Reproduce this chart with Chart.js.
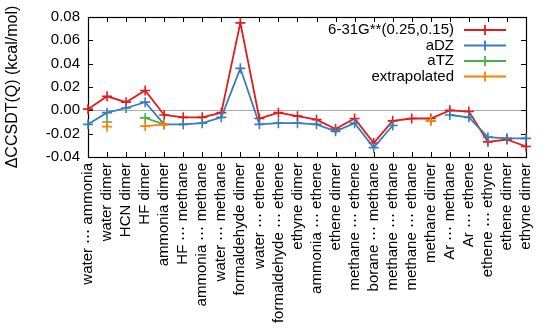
<!DOCTYPE html>
<html>
<head>
<meta charset="utf-8">
<script src="https://cdn.jsdelivr.net/npm/chart.js@4"></script>
<style>
  html, body { margin: 0; padding: 0; background: #fff; }
  #wrap { width: 550px; height: 333px; }
</style>
</head>
<body>
<div id="wrap"><canvas id="chart" width="550" height="333"></canvas></div>
<script>
const categories = [
  "water ⋯ ammonia", "water dimer", "HCN dimer", "HF dimer", "ammonia dimer",
  "HF ⋯ methane", "ammonia ⋯ methane", "water ⋯ methane", "formaldehyde dimer",
  "water ⋯ ethene", "formaldehyde ⋯ ethene", "ethyne dimer", "ammonia ⋯ ethene",
  "ethene dimer", "methane ⋯ ethene", "borane ⋯ methane", "methane ⋯ ethane",
  "methane ⋯ ethane", "methane dimer", "Ar ⋯ methane", "Ar ⋯ ethene",
  "ethene ⋯ ethyne", "ethene dimer", "ethyne dimer"
];

const seriesNames = ["6-31G**(0.25,0.15)", "aDZ", "aTZ", "extrapolated"];
const seriesColors = ["#e41a1c", "#377eb8", "#4daf4a", "#ff7f00"];

const pople = [0.001, 0.012, 0.007, 0.017, -0.004, -0.006, -0.006, -0.002, 0.075,
  -0.007, -0.002, -0.005, -0.008, -0.016, -0.007, -0.028, -0.009, -0.007, -0.007,
  0.000, -0.001, -0.027, -0.025, -0.031];
const adz = [-0.012, -0.002, 0.002, 0.007, -0.012, -0.012, -0.011, -0.006, 0.036,
  -0.012, -0.011, -0.011, -0.012, -0.018, -0.011, -0.032, -0.013, null, null,
  -0.004, -0.006, -0.023, -0.024, -0.024];
const atz = [null, -0.010, null, -0.0065, -0.012, null, null, null, null,
  null, null, null, null, null, null, null, null, null, -0.009,
  null, null, null, null, null];
const extrap = [null, -0.014, null, -0.0135, -0.012, null, null, null, null,
  null, null, null, null, null, null, null, null, null, -0.009,
  null, null, null, null, null];

const yTicks = [-0.04, -0.02, 0.00, 0.02, 0.04, 0.06, 0.08];

const FONT = "'Liberation Sans', Arial, Helvetica, sans-serif";

function makeSet(i, data) {
  return {
    label: seriesNames[i],
    data,
    borderColor: seriesColors[i],
    backgroundColor: seriesColors[i],
    borderWidth: 1.8,
    pointStyle: "cross",
    pointRadius: 5,
    pointBorderWidth: 1.6,
    spanGaps: false,
    tension: 0,
    order: 4 - i,
  };
}

// border + inward ticks like gnuplot
const frame = {
  id: "frame",
  beforeDatasetsDraw(chart) {
    const { ctx, chartArea: a, scales } = chart;
    ctx.save();
    ctx.strokeStyle = "#000";
    ctx.lineWidth = 1;
    ctx.beginPath();
    scales.x.ticks.forEach((t, i) => {
      const x = Math.round(scales.x.getPixelForTick(i)) + 0.5;
      ctx.moveTo(x, a.bottom); ctx.lineTo(x, a.bottom - 5);
      ctx.moveTo(x, a.top); ctx.lineTo(x, a.top + 5);
    });
    yTicks.forEach((v) => {
      const y = Math.round(scales.y.getPixelForValue(v)) + 0.5;
      ctx.moveTo(a.left, y); ctx.lineTo(a.left + 5, y);
      ctx.moveTo(a.right, y); ctx.lineTo(a.right - 5, y);
    });
    ctx.stroke();
    ctx.lineWidth = 1.2;
    ctx.strokeRect(Math.round(a.left) + 0.5, Math.round(a.top) + 0.5,
      Math.round(a.right - a.left), Math.round(a.bottom - a.top));
    ctx.restore();
  },
  afterDraw(chart) {
    const { ctx, chartArea: a } = chart;
    ctx.save();
    ctx.font = "15px " + FONT;
    ctx.textAlign = "right";
    ctx.textBaseline = "middle";
    chart.data.datasets.forEach((ds, i) => {
      const y = a.top + 13 + i * 15.5;
      ctx.fillStyle = "#000";
      ctx.fillText(ds.label, a.right - 72, y);
      ctx.strokeStyle = ds.borderColor;
      ctx.lineWidth = 1.8;
      ctx.beginPath();
      ctx.moveTo(a.right - 62, y); ctx.lineTo(a.right - 20, y);
      ctx.moveTo(a.right - 41, y - 5); ctx.lineTo(a.right - 41, y + 5);
      ctx.moveTo(a.right - 46, y); ctx.lineTo(a.right - 36, y);
      ctx.stroke();
    });
    ctx.restore();
  }
};

new Chart(document.getElementById("chart"), {
  type: "line",
  data: {
    labels: categories,
    datasets: [makeSet(0, pople), makeSet(1, adz), makeSet(2, atz), makeSet(3, extrap)],
  },
  plugins: [frame],
  options: {
    responsive: false,
    animation: false,
    devicePixelRatio: 1,
    layout: { autoPadding: false, padding: { top: 13, right: 8, left: 0, bottom: 0 } },
    plugins: { legend: { display: false }, tooltip: { enabled: false } },
    scales: {
      x: {
        offset: false,
        grid: { display: false, drawTicks: false },
        border: { display: false },
        ticks: {
          color: "#000",
          font: { family: FONT, size: 15 },
          maxRotation: 90, minRotation: 90,
          autoSkip: false,
          padding: 6,
        },
        afterFit: (s) => { s.height = 176; },
      },
      y: {
        min: -0.04, max: 0.08,
        afterBuildTicks: (s) => { s.ticks = yTicks.map((v) => ({ value: v })); },
        grid: {
          drawTicks: false,
          color: (c) => (c.tick && c.tick.value === 0 ? "#aaaaaa" : "rgba(0,0,0,0)"),
        },
        border: { display: false },
        ticks: {
          color: "#000",
          font: { family: FONT, size: 15 },
          padding: 8,
          callback: (v) => Number(v).toFixed(2),
        },
        title: {
          display: true,
          text: "ΔCCSDT(Q) (kcal/mol)",
          color: "#000",
          font: { family: FONT, size: 16 },
          padding: { top: 3, bottom: 0 },
        },
        afterFit: (s) => { s.width = 88; },
      },
    },
  },
});
</script>
</body>
</html>
